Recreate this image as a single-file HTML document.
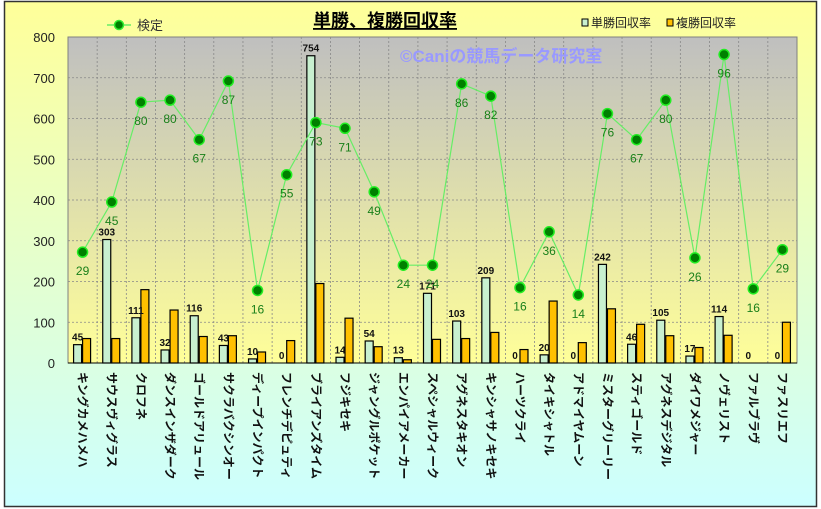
<!DOCTYPE html>
<html><head><meta charset="utf-8"><style>body{margin:0;background:#fff}svg{display:block}text{font-family:"Liberation Sans","Noto Sans CJK JP",sans-serif}</style></head><body>
<svg width="821" height="509" xmlns="http://www.w3.org/2000/svg">
<defs>
<linearGradient id="bg" x1="0" y1="0" x2="0" y2="1"><stop offset="0" stop-color="#ffff99"/><stop offset="1" stop-color="#ccffff"/></linearGradient>
<linearGradient id="pa" x1="0" y1="0" x2="0" y2="1"><stop offset="0" stop-color="#bfbfbf"/><stop offset="1" stop-color="#ffff99"/></linearGradient>
</defs>
<rect x="4.5" y="1.5" width="812" height="505" fill="url(#bg)" stroke="#333" stroke-width="1.5"/>
<rect x="68" y="37" width="729" height="326" fill="url(#pa)" stroke="#808080"/>
<g id="grid" stroke="#888" stroke-dasharray="2,2" stroke-width="0.8"></g>
<text x="385" y="27" font-size="18" font-weight="bold" text-anchor="middle" text-decoration="underline">単勝、複勝回収率</text>
<line x1="107" y1="25" x2="131" y2="25" stroke="#66ee66" stroke-width="1.5"/><circle cx="119" cy="25" r="4.5" fill="#008000" stroke="#33ee33" stroke-width="1.5"/>
<text x="137" y="30" font-size="13" fill="#333">検定</text>
<rect x="582" y="19" width="6" height="7" fill="#c8f0d0" stroke="#000"/><text x="591" y="27" font-size="12" fill="#222">単勝回収率</text>
<rect x="667" y="19" width="6" height="7" fill="#ffc000" stroke="#000"/><text x="676" y="27" font-size="12" fill="#222">複勝回収率</text>
<text x="400" y="62" font-size="17" font-weight="bold" fill="#9999ff">©Caniの競馬データ研究室</text>
<g id="yl" font-size="13" fill="#222" text-anchor="end"></g>
<g id="bars"></g>
<g id="line"></g>
<g id="cats"></g>
<script>
var d=[["キングカメハメハ",45,60,272,29],["サウスヴィグラス",303,60,395,45],["クロフネ",111,180,640,80],["ダンスインザダーク",32,130,645,80],["ゴールドアリュール",116,65,548,67],["サクラバクシンオー",43,67,692,87],["ディープインパクト",10,27,178,16],["フレンチデピュティ",0,55,462,55],["ブライアンズタイム",754,195,590,73],["フジキセキ",14,110,576,71],["ジャングルポケット",54,40,420,49],["エンパイアメーカー",13,8,240,24],["スペシャルウィーク",171,58,240,24],["アグネスタキオン",103,60,685,86],["キンシャサノキセキ",209,75,655,82],["ハーツクライ",0,33,185,16],["タイキシャトル",20,152,322,36],["アドマイヤムーン",0,50,167,14],["ミスターグリーリー",242,133,612,76],["スティゴールド",46,95,548,67],["アグネスデジタル",105,67,645,80],["ダイワメジャー",17,38,258,26],["ノヴェリスト",114,68,757,96],["ファルブラヴ",0,0,182,16],["ファスリエフ",0,100,278,29]];
var NS="http://www.w3.org/2000/svg";function el(p,t,a,tx){var e=document.createElementNS(NS,t);for(var k in a)e.setAttribute(k,a[k]);if(tx!=null)e.textContent=tx;document.getElementById(p).appendChild(e);return e;}
function Y(v){return 363-v*0.4075;}var w=729/25;
for(var i=1;i<8;i++)el("grid","line",{x1:68,x2:797,y1:Y(i*100),y2:Y(i*100)});
for(var i=1;i<25;i++)el("grid","line",{x1:68+i*w,x2:68+i*w,y1:37,y2:363});
for(var i=0;i<=8;i++)el("yl","text",{x:55,y:Y(i*100)+5},i*100);
var pts=[];
d.forEach(function(r,i){var c=68+w*(i+0.5);
if(r[1]>0)el("bars","rect",{x:c-9,y:Y(r[1]),width:8,height:r[1]*0.4075,fill:"#c8f0d0",stroke:"#000","stroke-width":1.2});
if(r[2]>0)el("bars","rect",{x:c,y:Y(r[2]),width:8,height:r[2]*0.4075,fill:"#ffc000",stroke:"#000","stroke-width":1.2});
el("bars","text",{x:c-5,y:Y(r[1])-4,"font-size":10,"font-weight":"bold","text-anchor":"middle",fill:"#111"},r[1]);
pts.push(c+","+Y(r[3]));
el("cats","text",{"font-size":12,"font-weight":"bold",fill:"#111",transform:"translate("+(c-4)+",372) rotate(90)"},r[0]);
});
el("line","polyline",{points:pts.join(" "),fill:"none",stroke:"#66ee66","stroke-width":1.2});
d.forEach(function(r,i){var c=68+w*(i+0.5);el("line","circle",{cx:c,cy:Y(r[3]),r:5,fill:"#008000",stroke:"#22ee22","stroke-width":1.5});
el("line","text",{x:c,y:Y(r[3])+23,"font-size":12,fill:"#1a801a","text-anchor":"middle"},r[4]);});
</script>
<line x1="68" y1="363" x2="797" y2="363" stroke="#000"/>
</svg>
</body></html>
